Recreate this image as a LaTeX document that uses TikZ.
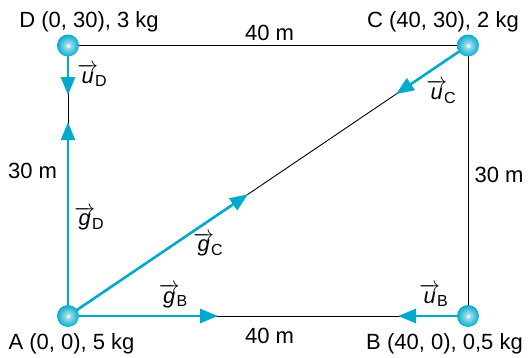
\documentclass[tikz,border=0pt]{standalone}
\usepackage{fontspec}
\setmainfont{Liberation Sans}
\usepackage{amsmath}
\usepackage{xcolor}
\usepackage{tikz}
\usetikzlibrary{arrows.meta, positioning}

\definecolor{ballcyan}{RGB}{0,170,204}
\pgfdeclareradialshading{sphere}{\pgfpoint{0bp}{0bp}}{%
  color(0bp)=(white); color(7bp)=(white!55!ballcyan);
  color(26bp)=(ballcyan); color(50bp)=(ballcyan!80!black)}

\newcommand{\vecl}[2]{$\overrightarrow{\textit{#1}}$\kern-3pt\raisebox{-3.5pt}{\fontsize{16}{16}\selectfont #2}}

\begin{document}
\begin{tikzpicture}[x=10pt, y=9.017pt, font=\fontsize{22}{26}\selectfont,
    side/.style={line width=0.9pt},
    vect/.style={line width=2.6pt, ballcyan, -{Triangle[length=18pt,width=14pt]}},
    mass/.style={circle, inner sep=0pt, minimum size=22pt, shading=sphere},
    lbl/.style={anchor=base, inner sep=0pt}]
    \useasboundingbox (-6.8,-4.547) rectangle (46,35.045);

      % corners
      \coordinate (A) at (0,0);
      \coordinate (B) at (40,0);
      \coordinate (C) at (40,30);
      \coordinate (D) at (0,30);

      % arrow heads
      \coordinate (gB) at (15,0);
      \coordinate (uB) at (33,0);
      \coordinate (gC) at (18,13.5);
      \coordinate (uC) at (32.8,24.6);
      \coordinate (gD) at (0,21.5);
      \coordinate (uD) at (0,24.5);

      % rectangle and diagonal
      \draw[side] (A) -- (B) -- (C) -- (D) -- cycle;
      \draw[side] (A) -- (C);

      % vectors
      \draw[vect] (A) -- (gB);
      \draw[vect] (A) -- (gC);
      \draw[vect] (A) -- (gD);
      \draw[vect] (B) -- (uB);
      \draw[vect] (C) -- (uC);
      \draw[vect] (D) -- (uD);

      % masses
      \foreach \p in {A,B,C,D}{
        \node[mass] (m\p) at (\p) {};
      }

    \node[lbl] (labD) at (2.1,32.05) {D (0, 30), 3 kg};
    \node[lbl] (labC) at (37.5,32.05) {C (40, 30), 2 kg};
    \node[lbl] (labA) at (0.35,-3.77) {A (0, 0), 5 kg};
    \node[lbl] (labB) at (37.65,-3.77) {B (40, 0), 0,5 kg};

    \node[lbl] (top) at (20.15,30.5) {40 m};
    \node[lbl] (bot) at (20.15,-3.1) {40 m};
    \node[lbl] (lft) at (-3.55,15.2) {30 m};
    \node[lbl] (rgt) at (43.1,14.75) {30 m};

    \node[lbl] (vuD) at (2.4,25.84) {\vecl{u}{D}};
    \node[lbl] (vuC) at (37.3,24.0) {\vecl{u}{C}};
    \node[lbl] (vuB) at (36.55,1.44) {\vecl{u}{B}};
    \node[lbl] (vgD) at (2.1,10.0) {\vecl{g}{D}};
    \node[lbl] (vgC) at (14.0,7.1) {\vecl{g}{C}};
    \node[lbl] (vgB) at (10.5,1.44) {\vecl{g}{B}};
    \end{tikzpicture}
\end{document}
